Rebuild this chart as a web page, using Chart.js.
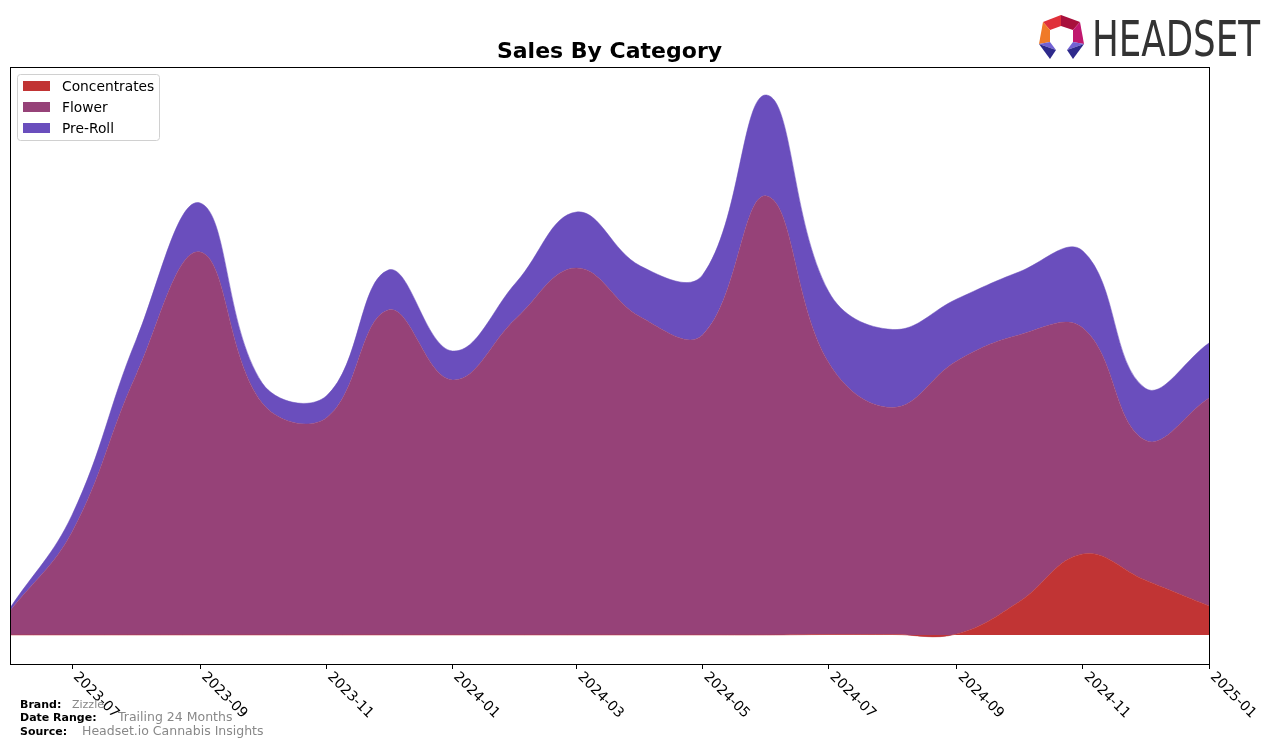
<!DOCTYPE html>
<html>
<head>
<meta charset="utf-8">
<script src="https://cdn.jsdelivr.net/npm/chart.js@4"></script>
<style>
  html, body { margin: 0; padding: 0; background: #fff; }
  #wrap { width: 1276px; height: 748px; }
</style>
</head>
<body>
<div id="wrap"><canvas id="chart" width="1276" height="748"></canvas></div>
<script>
// months shown on the chart (first of each month)
const months = ['2023-06', '2023-07', '2023-08', '2023-09', '2023-10', '2023-11', '2023-12',
  '2024-01', '2024-02', '2024-03', '2024-04', '2024-05', '2024-06', '2024-07', '2024-08',
  '2024-09', '2024-10', '2024-11', '2024-12', '2025-01'];
const concentrates = [0, 0, 0, 0, 0, 0, 0, 0, 0, 0, 0, 0, 0, 0.5, 0.5, 1, 33, 81, 55, 29];
const flower = [24, 103, 260, 383, 232, 217, 325, 255, 317, 367, 318, 300, 439, 272, 227, 273, 267, 226, 140, 208];
const preRoll = [3, 17, 35, 49, 20, 22, 40, 29, 36, 56, 51, 60, 101, 71, 78, 62, 63, 77, 52, 55];
const tickLabels = ['2023-07', '2023-09', '2023-11', '2024-01', '2024-03', '2024-05', '2024-07', '2024-09', '2024-11', '2025-01'];

function toMs(s) {
    var p = s.split('-');
    return Date.UTC(+p[0], +p[1] - 1, 1);
}

function points(arr) {
    var out = [];
    for (var i = 0; i < months.length; i++) {
        out.push({ x: toMs(months[i]), y: arr[i] });
    }
    return out;
}

const colors = {
    concentrates: '#c13434',
    flower: '#964278',
    preRoll: '#6a4ebd'
};

// title, frame, rotated tick labels, legend, footer and logo
const decor = {
    id: 'decor',
    afterDraw(chart) {
        const ctx = chart.ctx;
        const a = chart.chartArea;
        const xs = chart.scales.x;
        ctx.save();

        // frame
        ctx.strokeStyle = '#000';
        ctx.lineWidth = 1;
        ctx.strokeRect(a.left + 0.5, a.top + 0.5, a.right - a.left, a.bottom - a.top);

        // title
        ctx.fillStyle = '#000';
        ctx.font = 'bold 22px "DejaVu Sans"';
        ctx.textAlign = 'center';
        ctx.textBaseline = 'middle';
        ctx.fillText('Sales By Category', (a.left + a.right) / 2, 52);

        // tick labels, rotated like the original
        ctx.font = '14px "DejaVu Sans"';
        ctx.textAlign = 'left';
        ctx.textBaseline = 'top';
        for (var i = 0; i < tickLabels.length; i++) {
            var px = xs.getPixelForValue(toMs(tickLabels[i]));
            ctx.save();
            ctx.translate(px + 4, a.bottom + 10);
            ctx.rotate(Math.PI / 4);
            ctx.fillText(tickLabels[i], 0, -6);
            ctx.restore();
        }

        // legend
        ctx.fillStyle = '#fff';
        ctx.strokeStyle = '#d0d0d0';
        ctx.beginPath();
        ctx.roundRect(17.5, 74.5, 142, 66, 3);
        ctx.fill();
        ctx.stroke();
        var items = [['Concentrates', colors.concentrates], ['Flower', colors.flower], ['Pre-Roll', colors.preRoll]];
        ctx.font = '13.8px "DejaVu Sans"';
        ctx.textBaseline = 'middle';
        for (var j = 0; j < items.length; j++) {
            var y = 86 + j * 21;
            ctx.fillStyle = items[j][1];
            ctx.fillRect(23, y - 5, 27, 10);
            ctx.fillStyle = '#000';
            ctx.fillText(items[j][0], 62, y + 1);
        }

        // footer
        ctx.font = 'bold 11px "DejaVu Sans"';
        ctx.fillStyle = '#000';
        ctx.fillText('Brand:', 20, 705);
        ctx.fillText('Date Range:', 20, 718);
        ctx.fillText('Source:', 20, 732);
        ctx.fillStyle = '#888';
        ctx.font = '11px "DejaVu Sans"';
        ctx.fillText('Zizzle', 72, 705);
        ctx.font = '12.5px "DejaVu Sans"';
        ctx.fillText('Trailing 24 Months', 118, 718);
        ctx.fillText('Headset.io Cannabis Insights', 82, 732);

        // logo icon
        var polys = [
            ['#e0303a', [[1043, 22], [1061, 15], [1061, 26], [1050, 30]]],
            ['#a8103c', [[1061, 15], [1080, 22], [1073, 30], [1061, 26]]],
            ['#f07a28', [[1043, 22], [1050, 30], [1050, 42], [1039, 44]]],
            ['#c0186e', [[1080, 22], [1084, 44], [1073, 42], [1073, 30]]],
            ['#7262d4', [[1039, 44], [1050, 42], [1056, 50]]],
            ['#2e2a8c', [[1039, 44], [1056, 50], [1050, 59]]],
            ['#7262d4', [[1084, 44], [1073, 42], [1067, 50]]],
            ['#2e2a8c', [[1084, 44], [1067, 50], [1073, 59]]]
        ];
        for (var k = 0; k < polys.length; k++) {
            var pts = polys[k][1];
            ctx.fillStyle = polys[k][0];
            ctx.beginPath();
            ctx.moveTo(pts[0][0], pts[0][1]);
            for (var m = 1; m < pts.length; m++) ctx.lineTo(pts[m][0], pts[m][1]);
            ctx.closePath();
            ctx.fill();
        }

        // logo word
        ctx.font = '49px "DejaVu Sans"';
        ctx.fillStyle = '#333';
        ctx.textBaseline = 'alphabetic';
        var w = ctx.measureText('HEADSET').width;
        ctx.save();
        ctx.translate(1092, 56);
        ctx.scale(168 / w, 1);
        ctx.fillText('HEADSET', 0, 0);
        ctx.restore();

        ctx.restore();
    }
};

new Chart(document.getElementById('chart'), {
    type: 'line',
    data: {
        datasets: [
            { label: 'Concentrates', data: points(concentrates), backgroundColor: colors.concentrates, borderColor: colors.concentrates, fill: 'origin' },
            { label: 'Flower', data: points(flower), backgroundColor: colors.flower, borderColor: colors.flower, fill: '-1' },
            { label: 'Pre-Roll', data: points(preRoll), backgroundColor: colors.preRoll, borderColor: colors.preRoll, fill: '-1' }
        ]
    },
    options: {
        responsive: false,
        animation: false,
        devicePixelRatio: 1,
        layout: { padding: { top: 67, left: 10, right: 67, bottom: 0 } },
        elements: {
            point: { radius: 0 },
            line: { tension: 0.4, borderWidth: 0.5 }
        },
        plugins: {
            legend: { display: false },
            title: { display: false },
            tooltip: { enabled: false }
        },
        scales: {
            x: {
                type: 'linear',
                min: toMs('2023-06'),
                max: toMs('2025-01'),
                afterBuildTicks: function(scale) {
                    scale.ticks = tickLabels.map(function(s) { return { value: toMs(s) }; });
                },
                afterFit: function(scale) { scale.height = 84; },
                ticks: { display: false },
                grid: { drawOnChartArea: false, drawTicks: true, tickLength: 5, color: '#000' },
                border: { display: false }
            },
            y: {
                display: false,
                stacked: true,
                min: -29,
                max: 568
            }
        }
    },
    plugins: [decor]
});
</script>
</body>
</html>
